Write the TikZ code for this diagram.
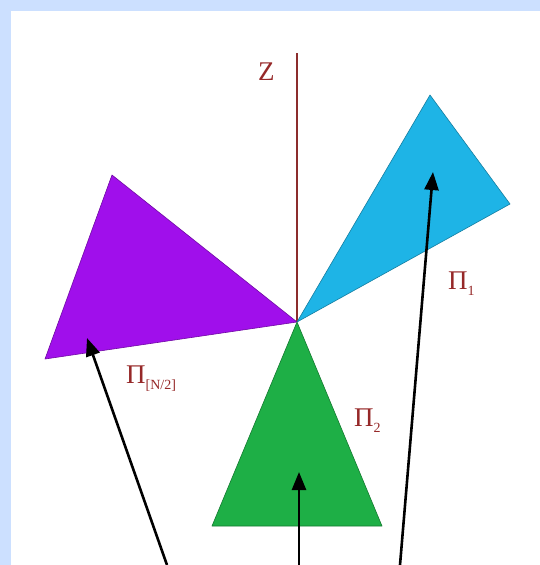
\documentclass[tikz,border=0pt]{standalone}
\usepackage{fontspec}
\setmainfont{Liberation Serif}
\usetikzlibrary{arrows.meta}
\definecolor{framebg}{RGB}{204,224,255}
\definecolor{axisred}{RGB}{140,45,45}
\definecolor{labred}{RGB}{150,40,40}
\definecolor{planecyan}{RGB}{30,180,230}
\definecolor{planeviolet}{RGB}{160,15,235}
\definecolor{planegreen}{RGB}{30,175,70}
\newcommand{\plsub}[1]{\raisebox{-6pt}{\fontsize{14}{14}\selectfont #1}}

\begin{document}
\begin{tikzpicture}[x=1pt,y=-1pt,
    plane/.style={draw=#1!70!black,line width=0.6pt,fill=#1,line join=round},
    lab/.style={text=labred,inner sep=0pt,anchor=base west,font=\fontsize{27}{27}\selectfont},
    ptr/.style={-{Triangle[length=18pt,width=14pt]},line width=2.6pt}
]
\useasboundingbox (0,0) rectangle (540,565);
\fill[framebg] (0,0) rectangle (540,565);
\fill[white] (11,11) rectangle (540,565);
% axis and the three planes
\coordinate (o) at (297,322);
\draw[axisred,line width=1.4pt] (o) -- (297,53) coordinate (ztop);
\node[lab] (z) at (258,80) {Z};
\path[plane=planecyan] (o) -- (430,95) -- (510,204) -- cycle;
\path[plane=planeviolet] (o) -- (112,175) -- (45,359) -- cycle;
\path[plane=planegreen] (o) -- (382,526) -- (212,526) -- cycle;
\node[lab] (pi1) at (448,289) {Π\plsub{1}};
\node[lab] (pin) at (126,383) {Π\plsub{[N/2]}};
\node[lab] (pi2) at (354,426) {Π\plsub{2}};
% pointers
\foreach \n/\s/\t in {a/{167,565}/{87,338}, b/{299,565}/{299,472}, c/{400,565}/{433,172}} {
    \coordinate (\n0) at (\s);
    \coordinate (\n1) at (\t);
    \draw[ptr] (\n0) -- (\n1);
}
\end{tikzpicture}
\end{document}
